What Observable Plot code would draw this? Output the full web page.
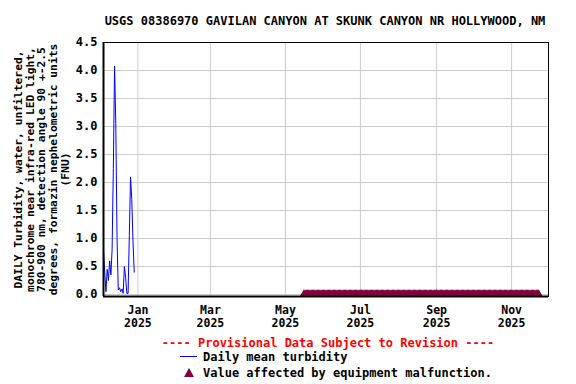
<!DOCTYPE html>
<html>
<head>
<meta charset="utf-8">
<script src="https://cdn.jsdelivr.net/npm/d3@7"></script>
<script src="https://cdn.jsdelivr.net/npm/@observablehq/plot@0.6"></script>
<style>
  body { margin: 0; background: #fff; }
  #wrap { position: relative; width: 576px; height: 384px; overflow: hidden;
          font-family: "DejaVu Sans Mono", monospace; font-weight: bold; font-size: 12px; }
  .abs { position: absolute; white-space: pre; line-height: 1; }
</style>
</head>
<body>
<div id="wrap">
  <div id="chart" class="abs" style="left:0;top:0"></div>
  <div class="abs" style="left:0;width:650px;top:15px;text-align:center;">USGS 08386970 GAVILAN CANYON AT SKUNK CANYON NR HOLLYWOOD, NM</div>
  <div class="abs" style="left:0;width:656px;top:337px;text-align:center;color:#ff0000;">---- Provisional Data Subject to Revision ----</div>
  <svg class="abs" style="left:178px;top:350px" width="22" height="30">
    <line x1="2" x2="19" y1="6.5" y2="6.5" stroke="#0000ff" stroke-width="1"/>
    <path d="M11,18 L16,27 L6,27 Z" fill="#800040"/>
  </svg>
  <div class="abs" style="left:203px;top:351px;">Daily mean turbidity</div>
  <div class="abs" style="left:203px;top:367px;">Value affected by equipment malfunction.</div>
</div>
<script>
// Daily mean turbidity (FNU)
const turbDates = [
  "2024-12-04","2024-12-05","2024-12-06","2024-12-07","2024-12-08","2024-12-09",
  "2024-12-10","2024-12-11","2024-12-12","2024-12-13","2024-12-14","2024-12-15",
  "2024-12-16","2024-12-17","2024-12-18","2024-12-19","2024-12-20","2024-12-21",
  "2024-12-22","2024-12-23","2024-12-24","2024-12-25","2024-12-26","2024-12-27",
  "2024-12-28","2024-12-29"
];
const turbValues = [
  0.80, 0.40, 0.05, 0.45, 0.25, 0.60,
  0.35, 0.80, 2.25, 4.08, 3.05, 1.02,
  0.08, 0.12, 0.05, 0.10, 0.02, 0.50,
  0.30, 0.02, 0.02, 1.05, 2.10, 1.70,
  0.95, 0.40
];
// Period flagged "equipment malfunction"
const malfunctionStart = "2025-05-16";
const malfunctionEnd = "2025-11-23";
// Axis ticks
const xTicks = ["2025-01-01","2025-03-01","2025-05-01","2025-07-01","2025-09-01","2025-11-01"];
const xTickMonths = ["Jan","Mar","May","Jul","Sep","Nov"];
const xTickYears = ["2025","2025","2025","2025","2025","2025"];
const yTicks = [0, 0.5, 1, 1.5, 2, 2.5, 3, 3.5, 4, 4.5];
const xDomain = ["2024-12-04", "2025-12-01"];
const yLabelLines = [
  "DAILY Turbidity, water, unfiltered,",
  "monochrome near infra-red LED light,",
  "780-900 nm, detection angle 90 +-2.5",
  "degrees, formazin nephelometric units",
  "(FNU)"
];

const P = d3.utcParse("%Y-%m-%d");
const series = turbDates.map((d, i) => ({date: P(d), value: turbValues[i]}));
const malf = d3.utcDay.range(P(malfunctionStart), d3.utcDay.offset(P(malfunctionEnd), 1))
  .map(d => ({date: d, value: 0}));
const xt = xTicks.map(P);
const monthOf = new Map(xt.map((d, i) => [+d, xTickMonths[i]]));
const yearOf = new Map(xt.map((d, i) => [+d, xTickYears[i]]));

const chart = Plot.plot({
  width: 576,
  height: 334,
  marginLeft: 103,
  marginRight: 28,
  marginTop: 42,
  marginBottom: 38,
  insetBottom: 2,
  style: {fontFamily: "DejaVu Sans Mono, monospace", fontWeight: "bold", fontSize: "12px", color: "#000", background: "#fff"},
  x: {type: "utc", domain: xDomain.map(P)},
  y: {domain: [0, 4.5]},
  marks: [
    Plot.gridX(xt, {stroke: "#cccccc", strokeOpacity: 1}),
    Plot.gridY(yTicks, {stroke: "#cccccc", strokeOpacity: 1}),
    Plot.axisX(xt, {tickSize: 0, tickPadding: 9, tickFormat: d => monthOf.get(+d), fontSize: 11.5}),
    Plot.axisX(xt, {tickSize: 0, tickPadding: 22, tickFormat: d => yearOf.get(+d), fontSize: 11.5, label: null}),
    Plot.axisY(yTicks, {tickSize: 0, tickPadding: 6, tickFormat: d => d.toFixed(1), label: null, fontSize: 12}),
    Plot.line(series, {x: "date", y: "value", stroke: "#0000ff", strokeWidth: 1}),
    Plot.dot(malf, {x: "date", y: "value", symbol: "triangle", r: 3.3, fill: "#800040", stroke: "none"}),
    Plot.frame({stroke: "#000", strokeWidth: 1}),
    Plot.ruleX([xDomain[0]].map(P), {stroke: "#000", strokeWidth: 2}),
    Plot.ruleY([0], {y: () => 0, stroke: "#000", strokeWidth: 2, dy: 2}),
    Plot.text([yLabelLines.join("\n")], {
      frameAnchor: "left", dx: -62, rotate: -90, lineHeight: 1.03, textAnchor: "middle",
      fontSize: 11.3, fill: "#000"
    })
  ]
});
document.getElementById("chart").appendChild(chart);
</script>
</body>
</html>
